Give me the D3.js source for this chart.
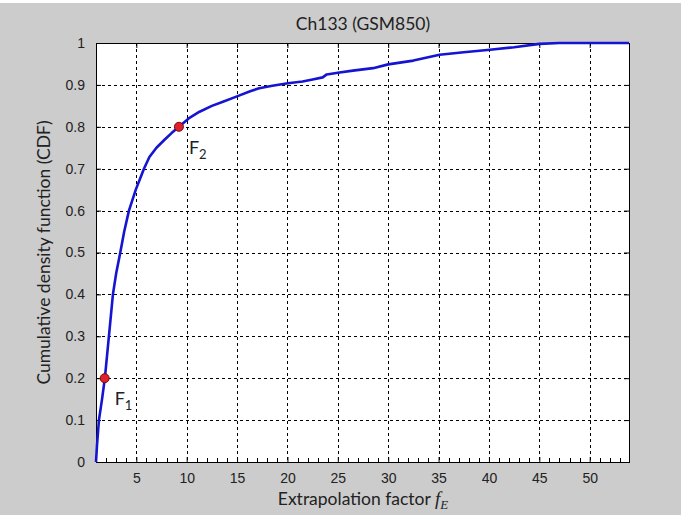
<!DOCTYPE html>
<html><head><meta charset="utf-8">
<script src="https://cdn.jsdelivr.net/npm/d3@7"></script>
<style>
html,body{margin:0;padding:0;background:#cccccc;}
svg{display:block;}
</style></head>
<body>
<script>
// ---- data ----
const cdfX = [1.0, 1.1, 1.29, 1.6, 1.88, 2.28, 2.68, 3.0, 3.41, 3.8, 4.27, 4.95, 5.76, 6.3, 7.0, 7.8, 8.5, 9.23, 10.2, 11.28, 12.5, 13.6, 14.93, 16.3, 17.2, 18.5, 20.05, 21.5, 22.5, 23.5, 23.9, 25.0, 26.5, 28.5, 30.0, 32.5, 35.1, 37.5, 40.1, 42.5, 45.0, 47.0, 53.9];
const cdfY = [0, 0.04, 0.1, 0.15, 0.2, 0.3, 0.4, 0.45, 0.5, 0.55, 0.6, 0.65, 0.7, 0.728, 0.75, 0.769, 0.785, 0.8, 0.82, 0.836, 0.85, 0.86, 0.872, 0.885, 0.892, 0.898, 0.904, 0.908, 0.913, 0.918, 0.925, 0.929, 0.934, 0.94, 0.949, 0.958, 0.972, 0.978, 0.984, 0.99, 0.998, 1.0, 1.0];
const markerNames = ["F", "F"];
const markerSubs = ["1", "2"];
const markerX = [1.86, 9.23];
const markerY = [0.2, 0.8];
const xTicks = [5, 10, 15, 20, 25, 30, 35, 40, 45, 50];
const yTicks = [0, 0.1, 0.2, 0.3, 0.4, 0.5, 0.6, 0.7, 0.8, 0.9, 1];
const xDomain = [1, 53.9];
const yDomain = [0, 1];
const title = "Ch133 (GSM850)";
const xLabel = "Extrapolation factor ";
const yLabel = "Cumulative density function (CDF)";

// ---- layout ----
const W = 681, H = 515;
const L = 96, R = 629, T = 43, B = 462;

const svg = d3.select("body").append("svg").attr("width", W).attr("height", H);
svg.append("rect").attr("width", W).attr("height", H).attr("fill", "#cccccc");
svg.append("rect").attr("width", W).attr("height", 3).attr("fill", "#ffffff");

const x = d3.scaleLinear().domain(xDomain).range([L, R]);
const y = d3.scaleLinear().domain(yDomain).range([B, T]);

svg.append("rect").attr("x", L).attr("y", T).attr("width", R - L).attr("height", B - T).attr("fill", "#fff");

// grid
const grid = svg.append("g").attr("stroke", "#000").attr("stroke-width", 1).attr("stroke-dasharray", "3,3");
grid.selectAll("line.v").data(xTicks).join("line")
  .attr("x1", d => Math.round(x(d)) + 0.5).attr("x2", d => Math.round(x(d)) + 0.5)
  .attr("y1", T).attr("y2", B);
grid.selectAll("line.h").data(yTicks.filter(d => d > 0 && d < 1)).join("line")
  .attr("y1", d => Math.round(y(d)) + 0.5).attr("y2", d => Math.round(y(d)) + 0.5)
  .attr("x1", L).attr("x2", R);

// axes
const tickFont = "'Liberation Sans', Arial, sans-serif";
const xAxis = svg.append("g").attr("transform", `translate(0,${B})`)
  .call(d3.axisBottom(x).tickValues(xTicks).tickSize(-5).tickPadding(11).tickFormat(d3.format("d")));
const xTop = svg.append("g").attr("transform", `translate(0,${T})`)
  .call(d3.axisTop(x).tickValues(xTicks).tickSize(-5).tickFormat(""));
const yAxis = svg.append("g").attr("transform", `translate(${L},0)`)
  .call(d3.axisLeft(y).tickValues(yTicks).tickSize(-5).tickPadding(11).tickFormat(d => d === 0 ? "0" : d === 1 ? "1" : d3.format(".1f")(d)));
const yRight = svg.append("g").attr("transform", `translate(${R},0)`)
  .call(d3.axisRight(y).tickValues(yTicks).tickSize(-5).tickFormat(""));
[xAxis, xTop, yAxis, yRight].forEach(g => {
  g.select(".domain").remove();
  g.selectAll("line").attr("stroke", "#000");
  g.selectAll("text").attr("font-family", tickFont).attr("font-size", "14px").attr("fill", "#222");
});

// minor ticks bottom
const minor = d3.range(2, 54).filter(d => d % 5 !== 0);
svg.append("g").selectAll("line").data(minor).join("line")
  .attr("x1", d => Math.round(x(d)) + 0.5).attr("x2", d => Math.round(x(d)) + 0.5)
  .attr("y1", B).attr("y2", B - 4).attr("stroke", "#000");

// frame
svg.append("rect").attr("x", L + 0.5).attr("y", T + 0.5).attr("width", R - L).attr("height", B - T)
  .attr("fill", "none").attr("stroke", "#000").attr("stroke-width", 1);

// curve
const pts = cdfX.map((v, i) => [v, cdfY[i]]);
svg.append("path").datum(pts)
  .attr("d", d3.line().x(d => x(d[0])).y(d => y(d[1])))
  .attr("fill", "none").attr("stroke", "#1414d2").attr("stroke-width", 2.6).attr("stroke-linejoin", "round");

// markers
const mk = markerX.map((v, i) => ({x: v, y: markerY[i], n: markerNames[i], s: markerSubs[i]}));
svg.append("g").selectAll("circle").data(mk).join("circle")
  .attr("cx", d => x(d.x)).attr("cy", d => y(d.y)).attr("r", 4.5)
  .attr("fill", "#e0202a").attr("stroke", "#7a0a0a").attr("stroke-width", 1);
const lab = svg.append("g").selectAll("text").data(mk).join("text")
  .attr("x", d => x(d.x) + 10).attr("y", d => y(d.y) + 27)
  .attr("font-family", "Lato, 'Open Sans', sans-serif").attr("font-size", "18px").attr("fill", "#222");
lab.append("tspan").text(d => d.n);
lab.append("tspan").attr("dy", 5).attr("font-size", "13px").text(d => d.s);

// title
svg.append("text").attr("x", 363).attr("y", 29.5).attr("text-anchor", "middle")
  .attr("font-family", "Lato, 'Open Sans', sans-serif").attr("font-size", "17.5px").attr("fill", "#222").text(title);

// x label
const xl = svg.append("text").attr("x", 363).attr("y", 505).attr("text-anchor", "middle")
  .attr("font-family", "Lato, 'Open Sans', sans-serif").attr("font-size", "17.5px").attr("fill", "#222");
xl.append("tspan").text(xLabel);
xl.append("tspan").attr("font-family", "'Liberation Serif', 'DejaVu Serif', serif").attr("font-style", "italic").attr("font-size", "19px").text("f");
xl.append("tspan").attr("font-family", "'Liberation Serif', 'DejaVu Serif', serif").attr("font-style", "italic").attr("font-size", "13px").attr("dy", 4).text("E");

// y label
svg.append("text").attr("transform", `translate(50,${(T + B) / 2}) rotate(-90)`).attr("text-anchor", "middle")
  .attr("font-family", "Lato, 'Open Sans', sans-serif").attr("font-size", "17.5px").attr("fill", "#222").text(yLabel);
</script>
</body></html>
